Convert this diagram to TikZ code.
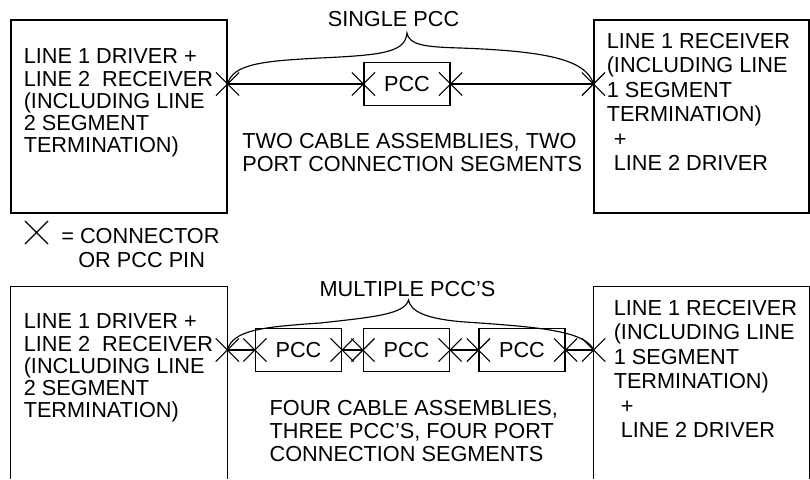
\documentclass[tikz,border=0pt]{standalone}
\usepackage{fontspec}
\setmainfont{Liberation Sans}
\usepackage{tikz}
\usetikzlibrary{shapes.misc}
\pgfdeclarelayer{edgelayer}
\pgfdeclarelayer{nodelayer}
\pgfsetlayers{edgelayer,nodelayer,main}
\tikzstyle{devbox}=[rectangle,draw=black,line width=0.65pt,minimum width=4.32cm,minimum height=3.86cm,inner sep=0pt]
\tikzstyle{openbox}=[rectangle,minimum width=4.32cm,minimum height=3.84cm,inner sep=0pt]
\tikzstyle{pccbox}=[rectangle,draw=black,line width=0.65pt,minimum width=1.72cm,minimum height=0.86cm,inner sep=0pt,font=\fontsize{12.35pt}{12.69pt}\selectfont]
\tikzstyle{xpin}=[cross out,draw=black,line width=0.65pt,minimum size=0.44cm,inner sep=0pt]
\tikzstyle{boxtext}=[anchor=north west,align=left,inner sep=0pt,font=\fontsize{12.35pt}{12.69pt}\selectfont]
\tikzstyle{rcvtext}=[boxtext,font=\fontsize{12.35pt}{13.88pt}\selectfont]
\tikzstyle{midtext}=[boxtext,font=\fontsize{12.35pt}{13.09pt}\selectfont]
\tikzstyle{keytext}=[boxtext,font=\fontsize{12.35pt}{13.66pt}\selectfont]
\tikzstyle{headtext}=[anchor=base,inner sep=0pt,font=\fontsize{12.35pt}{12.69pt}\selectfont]
\tikzstyle{wire}=[draw=black,line width=0.65pt]

\begin{document}
\begin{tikzpicture}
	\useasboundingbox (0.000,0.000) rectangle (16.200,-9.580);
	\begin{pgfonlayer}{nodelayer}
		\node [style=devbox] (0) at (2.380,-2.330) {};
		\node [style=devbox,minimum width=4.30cm] (1) at (14.030,-2.330) {};
		\node [style=pccbox] (2) at (8.140,-1.680) {PCC};
		\node [style=openbox] (3) at (2.380,-7.660) {};
		\node [style=openbox,minimum width=4.30cm] (4) at (14.030,-7.660) {};
		\node [style=pccbox] (5) at (5.970,-7.000) {PCC};
		\node [style=pccbox] (6) at (8.130,-7.000) {PCC};
		\node [style=pccbox] (7) at (10.440,-7.000) {PCC};
		\node [style=boxtext] (8) at (0.468,-0.970) {LINE 1 DRIVER +\\LINE 2\ \ RECEIVER\\(INCLUDING LINE\\2 SEGMENT\\TERMINATION)};
		\node [style=rcvtext] (9) at (12.128,-0.660) {LINE 1 RECEIVER\\(INCLUDING LINE\\1 SEGMENT\\TERMINATION)\\\hspace*{0.14cm}+\\\hspace*{0.14cm}LINE 2 DRIVER};
		\node [style=boxtext] (10) at (0.468,-6.270) {LINE 1 DRIVER +\\LINE 2\ \ RECEIVER\\(INCLUDING LINE\\2 SEGMENT\\TERMINATION)};
		\node [style=rcvtext] (11) at (12.268,-6.000) {LINE 1 RECEIVER\\(INCLUDING LINE\\1 SEGMENT\\TERMINATION)\\\hspace*{0.14cm}+\\\hspace*{0.14cm}LINE 2 DRIVER};
		\node [style=headtext] (12) at (7.870,-0.520) {SINGLE PCC};
		\node [style=midtext] (13) at (4.840,-2.660) {TWO CABLE ASSEMBLIES, TWO\\PORT CONNECTION SEGMENTS};
		\node [style=headtext] (14) at (8.150,-5.920) {MULTIPLE PCC’S};
		\node [style=midtext] (15) at (5.386,-8.000) {FOUR CABLE ASSEMBLIES,\\THREE PCC’S, FOUR PORT\\CONNECTION SEGMENTS};
		\node [style=xpin] (16) at (0.730,-4.650) {};
		\node [style=keytext] (17) at (1.220,-4.550) {= CONNECTOR\\\hspace*{0.34cm}OR PCC PIN};
		\node [style=xpin] (18) at (2.west -| 0.east) {};
		\node [style=xpin] (19) at (2.west) {};
		\node [style=xpin] (20) at (2.east) {};
		\node [style=xpin] (21) at (2.east -| 1.west) {};
		\node [style=xpin] (22) at (5.west -| 3.east) {};
		\node [style=xpin] (23) at (5.west) {};
		\node [style=xpin] (24) at (5.east) {};
		\node [style=xpin] (25) at (6.west) {};
		\node [style=xpin] (26) at (6.east) {};
		\node [style=xpin] (27) at (7.west) {};
		\node [style=xpin] (28) at (7.east) {};
		\node [style=xpin] (29) at (7.east -| 4.west) {};
		\coordinate (30) at (8.140,-0.660);
		\coordinate (31) at (8.170,-6.000);
	\end{pgfonlayer}
	\begin{pgfonlayer}{edgelayer}
		\draw [style=wire] (3.south west) -- (3.north west) -- (3.north east) -- (3.south east);
		\draw [style=wire] (4.south west) -- (4.north west) -- (4.north east) -- (4.south east);
		\draw [style=wire] (18.center) -- (19.center);
		\draw [style=wire] (20.center) -- (21.center);
		\draw [style=wire] (22.center) -- (23.center);
		\draw [style=wire] (24.center) -- (25.center);
		\draw [style=wire] (26.center) -- (27.center);
		\draw [style=wire] (28.center) -- (29.center);
		\draw [style=wire] (18.center) .. controls (4.660,-1.280) and (5.240,-1.220) .. (6.400,-1.160) .. controls (7.700,-1.100) and (8.100,-1.040) .. (30) .. controls (8.180,-0.900) and (8.500,-0.940) .. (9.200,-0.960) .. controls (10.800,-1.020) and (11.720,-1.160) .. (21.center);
		\draw [style=wire] (22.center) .. controls (4.660,-6.600) and (5.240,-6.540) .. (6.400,-6.460) .. controls (7.500,-6.340) and (8.100,-6.280) .. (31) .. controls (8.210,-6.220) and (8.500,-6.380) .. (9.300,-6.440) .. controls (10.800,-6.540) and (11.700,-6.620) .. (29.center);
	\end{pgfonlayer}
\end{tikzpicture}
\end{document}
